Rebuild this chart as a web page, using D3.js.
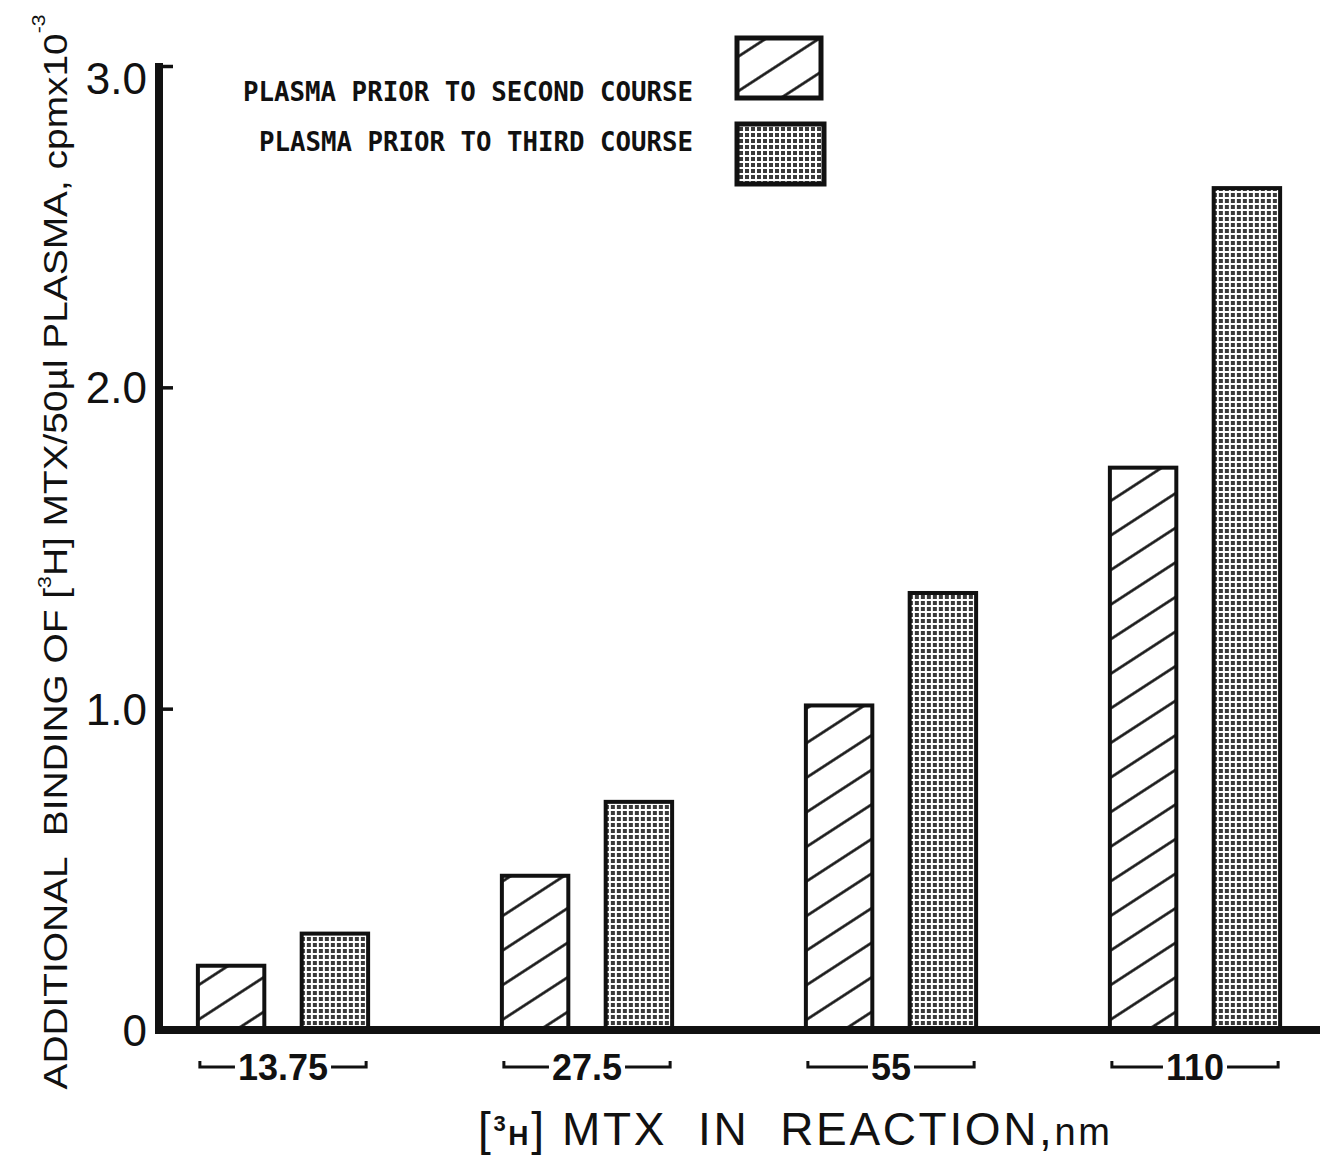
<!DOCTYPE html>
<html>
<head>
<meta charset="utf-8">
<script src="https://cdn.jsdelivr.net/npm/d3@7"></script>
<style>
  html, body { margin: 0; padding: 0; background: #fff; }
  svg { display: block; }
</style>
</head>
<body>
<svg id="chart"></svg>
<script>
// Chart data
const concentrations = ['13.75', '27.5', '55', '110'];
const seriesKeys = ['second', 'third'];
const seriesLabels = ['PLASMA PRIOR TO SECOND COURSE', 'PLASMA PRIOR TO THIRD COURSE'];
const secondCourse = [0.20, 0.48, 1.01, 1.75];
const thirdCourse = [0.30, 0.71, 1.36, 2.62];
const yTicks = [0, 1, 2, 3];
const yTickLabels = ['0', '1.0', '2.0', '3.0'];

const width = 1320;
const height = 1155;
const ink = '#111';

const svg = d3.select('#chart')
    .attr('width', width)
    .attr('height', height)
    .attr('viewBox', [0, 0, width, height]);

svg.append('rect').attr('width', width).attr('height', height).attr('fill', '#fff');

// Fill patterns: diagonal hatch and fine screen
const defs = svg.append('defs');

const hatch = defs.append('pattern')
    .attr('id', 'hatch')
    .attr('patternUnits', 'userSpaceOnUse')
    .attr('width', 10)
    .attr('height', 29)
    .attr('patternTransform', 'rotate(-33)');
hatch.append('rect').attr('width', 10).attr('height', 29).attr('fill', '#fff');
hatch.append('line')
    .attr('x1', 0).attr('x2', 10)
    .attr('y1', 14.5).attr('y2', 14.5)
    .attr('stroke', ink)
    .attr('stroke-width', 2.6);

const screen = defs.append('pattern')
    .attr('id', 'screen')
    .attr('patternUnits', 'userSpaceOnUse')
    .attr('width', 6)
    .attr('height', 6);
screen.append('rect').attr('width', 6).attr('height', 6).attr('fill', '#fff');
screen.append('rect').attr('x', 1).attr('y', 1).attr('width', 4).attr('height', 4).attr('fill', '#3a3a3a');

const fills = { second: 'url(#hatch)', third: 'url(#screen)' };

// Scales
const yScale = d3.scaleLinear().domain([0, 3]).range([1030, 66]);

const xGroup = d3.scaleBand()
    .domain(concentrations)
    .range([131, 1347])
    .paddingInner(0.44)
    .paddingOuter(0.22);

const xSeries = d3.scaleBand()
    .domain(seriesKeys)
    .range([0, xGroup.bandwidth()])
    .paddingInner(0.36);

const rows = concentrations.map((c, i) => ({
    conc: c,
    second: secondCourse[i],
    third: thirdCourse[i]
}));

// Bars
const groups = svg.append('g')
    .selectAll('g')
    .data(rows)
    .join('g')
    .attr('transform', d => `translate(${xGroup(d.conc)},0)`);

groups.selectAll('rect')
    .data(d => seriesKeys.map(k => ({ key: k, value: d[k] })))
    .join('rect')
    .attr('x', d => xSeries(d.key))
    .attr('y', d => yScale(d.value))
    .attr('width', xSeries.bandwidth())
    .attr('height', d => yScale(0) - yScale(d.value))
    .attr('fill', d => fills[d.key])
    .attr('stroke', ink)
    .attr('stroke-width', 4);

// Y axis: ticks point inward, labels on the left
const axisX = 159;
const yAxis = d3.axisLeft(yScale)
    .tickValues(yTicks)
    .tickSize(-14)
    .tickPadding(12)
    .tickFormat((d, i) => yTickLabels[i]);

const yAxisG = svg.append('g')
    .attr('transform', `translate(${axisX},0)`)
    .call(yAxis);

yAxisG.select('.domain').remove();
yAxisG.selectAll('.tick line')
    .attr('stroke', ink)
    .attr('stroke-width', 3.5);
yAxisG.selectAll('.tick text')
    .attr('fill', ink)
    .attr('font-family', 'Liberation Sans, Arial, sans-serif')
    .attr('font-size', 44)
    .attr('dy', (d) => d === 3 ? '0.62em' : '0.35em');
yAxisG.selectAll('.tick').filter(d => d === 0).select('line').remove();

// Heavy axis lines
svg.append('line')
    .attr('x1', axisX).attr('x2', axisX)
    .attr('y1', yScale(3) - 3).attr('y2', yScale(0) + 4)
    .attr('stroke', ink)
    .attr('stroke-width', 8);

svg.append('line')
    .attr('x1', axisX - 4).attr('x2', width)
    .attr('y1', yScale(0)).attr('y2', yScale(0))
    .attr('stroke', ink)
    .attr('stroke-width', 8);

// Category labels with bracket lines
const labelY = 1067;
const cats = svg.append('g')
    .selectAll('g')
    .data(concentrations)
    .join('g')
    .attr('transform', d => `translate(${xGroup(d)},0)`);

cats.append('text')
    .attr('x', xGroup.bandwidth() / 2)
    .attr('y', labelY)
    .attr('dy', '0.36em')
    .attr('text-anchor', 'middle')
    .attr('font-family', 'Liberation Sans, Arial, sans-serif')
    .attr('font-weight', 'bold')
    .attr('font-size', 36)
    .attr('fill', ink)
    .text(d => d)
    .each(function () {
        const bb = this.getBBox();
        const g = d3.select(this.parentNode);
        const w = xGroup.bandwidth();
        g.append('path')
            .attr('d', `M2,${labelY - 6}V${labelY}H${bb.x - 3}`)
            .attr('fill', 'none').attr('stroke', ink).attr('stroke-width', 3);
        g.append('path')
            .attr('d', `M${bb.x + bb.width + 3},${labelY}H${w - 2}V${labelY - 6}`)
            .attr('fill', 'none').attr('stroke', ink).attr('stroke-width', 3);
    });

// X axis title
const xTitle = svg.append('text')
    .attr('x', 478)
    .attr('y', 1145)
    .attr('fill', ink)
    .attr('font-family', 'Liberation Sans, Arial, sans-serif')
    .attr('font-size', 46)
    .attr('textLength', 632)
    .attr('lengthAdjust', 'spacing')
    .style('white-space', 'pre');
xTitle.append('tspan').text('[');
xTitle.append('tspan').attr('font-size', 22).attr('font-weight', 'bold').attr('dy', -14).text('3');
xTitle.append('tspan').attr('font-size', 28).attr('font-weight', 'bold').attr('dy', 14).text('H');
xTitle.append('tspan').text('] MTX  IN  REACTION,');
xTitle.append('tspan').attr('font-size', 38).text('nm');

// Y axis title (rotated)
const yTitle = svg.append('text')
    .attr('transform', 'translate(67,552) rotate(-90)')
    .attr('text-anchor', 'middle')
    .attr('fill', ink)
    .attr('font-family', 'Liberation Sans, Arial, sans-serif')
    .attr('font-size', 33)
    .attr('textLength', 1075)
    .attr('lengthAdjust', 'spacingAndGlyphs')
    .style('white-space', 'pre');
yTitle.append('tspan').text('ADDITIONAL  BINDING OF [');
yTitle.append('tspan').attr('font-size', 18).attr('dy', -16).text('3');
yTitle.append('tspan').attr('dy', 16).text('H] MTX/50\u00b5l PLASMA, cpmx10');
yTitle.append('tspan').attr('font-size', 18).attr('dy', -22).text('-3');

// Legend
const legendRows = seriesKeys.map((k, i) => ({ key: k, label: seriesLabels[i] }));
const legendTextY = [101, 151];
const legendBoxY = [38, 124];

const legend = svg.append('g')
    .selectAll('g')
    .data(legendRows)
    .join('g');

legend.append('text')
    .attr('x', 693)
    .attr('y', (d, i) => legendTextY[i])
    .attr('text-anchor', 'end')
    .attr('fill', ink)
    .attr('font-family', 'DejaVu Sans Mono, monospace')
    .attr('font-weight', 'bold')
    .attr('font-size', 27)
    .attr('textLength', (d, i) => i === 0 ? 450 : 434)
    .attr('lengthAdjust', 'spacingAndGlyphs')
    .text(d => d.label);

legend.append('rect')
    .attr('x', 737)
    .attr('y', (d, i) => legendBoxY[i])
    .attr('width', (d, i) => i === 0 ? 84 : 87)
    .attr('height', 60)
    .attr('fill', d => fills[d.key])
    .attr('stroke', ink)
    .attr('stroke-width', 5);
</script>
</body>
</html>
